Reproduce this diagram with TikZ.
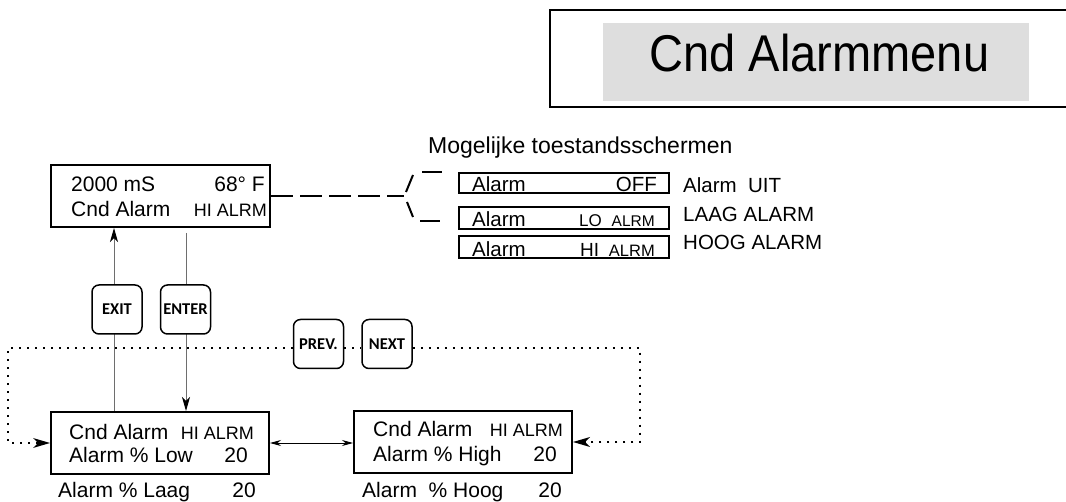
\documentclass[tikz,border=0pt]{standalone}
\usepackage{fontspec}
\usepackage{graphicx}
\setmainfont{Liberation Sans}
\newfontfamily\btnfont{Carlito}
\usetikzlibrary{arrows.meta}
\newcommand{\fs}[1]{\fontsize{#1}{#1}\selectfont}
\definecolor{titlegray}{RGB}{222,222,222}
\definecolor{linegray}{RGB}{110,110,110}
\begin{document}
\begin{tikzpicture}[x=1pt,y=-1pt,
  lcd/.style={draw=black,line width=2pt,inner sep=0pt,minimum height=62pt},
  stbox/.style={draw=black,line width=1.5pt,inner sep=0pt,minimum width=210pt},
  btn/.style={draw=black,line width=1.5pt,rounded corners=7pt,fill=white,minimum width=50pt,minimum height=49pt,inner sep=0pt,font=\btnfont\bfseries\fs{16.5}},
  txt/.style={inner sep=0pt,font=\fs{21}},
  sm/.style={inner sep=0pt,font=\fs{18}},
  lbl/.style={inner sep=0pt,font=\fs{20.5}},
  tipk/.style={-{Stealth[length=14pt,width=8pt,inset=4pt,color=black]}},
  tipd/.style={-{Stealth[length=17pt,width=10pt,inset=5pt,color=black,line width=0pt]}},
  dotline/.style={line width=2pt,dash pattern=on 2pt off 6pt},
  dashline/.style={line width=2pt,dash pattern=on 22pt off 7pt},
  seg/.style={line width=2pt},
]
\useasboundingbox (0,0) rectangle (1066,502);

% title
\draw[line width=1.5pt] (1067,10) -- (550,10) -- (550,107) -- (1067,107);
\node[fill=titlegray,minimum width=426pt,minimum height=78pt,inner sep=0pt] (title) at (816,62) {};
\node[anchor=base,inner sep=0pt,font=\fs{47}] (titletext) at (819.5,72) {\scalebox{1}[1.1]{Cnd Alarmmenu}};

% main display boxes
\node[lcd,minimum width=219pt] (top) at (160.5,196) {};
\node[txt,anchor=base west] (t1a) at (71,192) {2000 mS};
\node[txt,anchor=base east] (t1b) at (265,192) {68° F};
\node[txt,anchor=base west] (t2a) at (71,217) {Cnd Alarm};
\node[sm,anchor=base east] (t2b) at (267,217) {HI ALRM};

\node[lcd,minimum width=218pt] (low) at (160,443) {};
\node[txt,anchor=base west] (l1a) at (69,439) {Cnd Alarm};
\node[sm,anchor=base east] (l1b) at (254,439) {HI ALRM};
\node[txt,anchor=base west] (l2a) at (69,463) {Alarm \% Low};
\node[txt,anchor=base east] (l2b) at (248,463) {20};
\node[txt,anchor=base west] (l3a) at (58,497) {Alarm \% Laag};
\node[txt,anchor=base east] (l3b) at (256,497) {20};

\node[lcd,minimum width=218pt] (rbox) at (463,442) {};
\node[txt,anchor=base west] (r1a) at (373,437) {Cnd Alarm};
\node[sm,anchor=base east] (r1b) at (563,437) {HI ALRM};
\node[txt,anchor=base west] (r2a) at (373,461) {Alarm \% High};
\node[txt,anchor=base east] (r2b) at (557,461) {20};
\node[txt,anchor=base west] (r3a) at (362,497) {Alarm\ \ \% Hoog};
\node[txt,anchor=base east] (r3b) at (562,497) {20};

% status screens
\node[inner sep=0pt,font=\fs{23},anchor=base west] (mog) at (428,154) {Mogelijke toestandsschermen};
\node[stbox,minimum height=20pt] (s1) at (564,183) {};
\node[stbox,minimum height=22pt] (s2) at (564,218) {};
\node[stbox,minimum height=22pt] (s3) at (564,247) {};
\node[lbl,anchor=base west] (s1a) at (472,192) {Alarm};
\node[lbl,anchor=base east] (s1b) at (657,192) {OFF};
\node[lbl,anchor=base west] (s2a) at (472,227) {Alarm};
\node[inner sep=0pt,font=\fs{17},anchor=base west] (s2b) at (579,227) {LO};
\node[inner sep=0pt,font=\fs{15.5},anchor=base east] (s2c) at (655,227) {ALRM};
\node[lbl,anchor=base west] (s3a) at (472,257) {Alarm};
\node[inner sep=0pt,font=\fs{19},anchor=base west] (s3b) at (580,257) {HI};
\node[inner sep=0pt,font=\fs{16.5},anchor=base east] (s3c) at (655,257) {ALRM};
\node[lbl,anchor=base west] (u1) at (683,193) {Alarm\ \ UIT};
\node[lbl,anchor=base west] (u2) at (683,222) {LAAG ALARM};
\node[lbl,anchor=base west] (u3) at (683,250) {HOOG ALARM};

% dashed link to status screens
\coordinate (split) at (404,196);
\draw[dashline] (top.east) -- (split);
\draw[seg] (406,192) -- (413,175);
\draw[seg] (422,172) -- (442,172);
\draw[seg] (407,202) -- (413,217);
\draw[seg] (420,221) -- (440,221);

% exit / enter lines
\coordinate (exl) at (114,0);
\coordinate (enl) at (186,0);
\coordinate (dl) at (0,348);
\path (enl |- top.south) ++(0,5) coordinate (ens);
\draw[linegray,line width=1pt,tipk] (exl |- low.north) -- (exl |- top.south);
\draw[linegray,line width=1pt,tipk] (ens) -- (enl |- low.north);

% buttons
\node[btn] (exit) at (117,309.5) {EXIT};
\node[btn] (enter) at (185.5,309.5) {ENTER};
\node[btn] (prev) at (318.5,344) {PREV.};
\node[btn] (next) at (387,344) {NEXT};

% dotted loops
\coordinate (lcorner) at (8,348);
\coordinate (rcorner) at (640,348);
\draw[dotline,tipd] (prev.west |- dl) -- (lcorner) |- (low.west);
\draw[dotline] (prev.east |- dl) -- (next.west |- dl);
\draw[dotline,tipd] (next.east |- dl) -- (rcorner) |- (rbox.east);

% double arrow
\draw[line width=0.9pt,{Stealth[length=11pt,width=6pt]}-{Stealth[length=11pt,width=6pt]}] (low.east) -- (low.east -| rbox.west);
\end{tikzpicture}
\end{document}
